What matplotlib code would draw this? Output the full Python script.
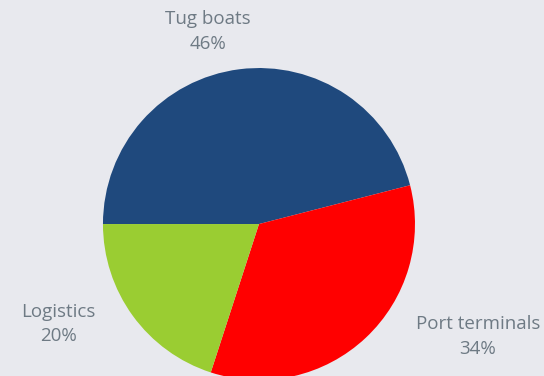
import matplotlib
matplotlib.use("Agg")
import matplotlib.pyplot as plt

names = ["Tug boats", "Port terminals", "Logistics"]
shares = [46, 34, 20]
colors = ["#1F497D", "#FF0000", "#9ACD32"]

BG = "#E8E9EE"
TXT = "#6E7A84"

plt.rcParams["font.family"] = ["Open Sans", "DejaVu Sans"]

fig = plt.figure(figsize=(5.44, 3.76), dpi=100)
fig.patch.set_facecolor(BG)
ax = fig.add_axes([0, 0, 1, 1])
ax.set_facecolor(BG)

ax.pie(shares, colors=colors, startangle=180, counterclock=False,
       radius=1.0, wedgeprops={"linewidth": 0})

ax.set_xlim(-1.660, 1.827)
ax.set_ylim(-0.974, 1.436)
ax.set_aspect("auto")
ax.set_axis_off()

# label spots (data units, pie radius = 1)
spots = [(-0.327, 1.234), (1.404, -0.721), (-1.288, -0.641)]
for name, val, (x, y) in zip(names, shares, spots):
    ax.text(x, y, f"{name}\n{val}%", ha="center", va="center",
            color=TXT, fontsize=13.5, linespacing=1.47)

fig.savefig("out.png", dpi=100, facecolor=BG)
